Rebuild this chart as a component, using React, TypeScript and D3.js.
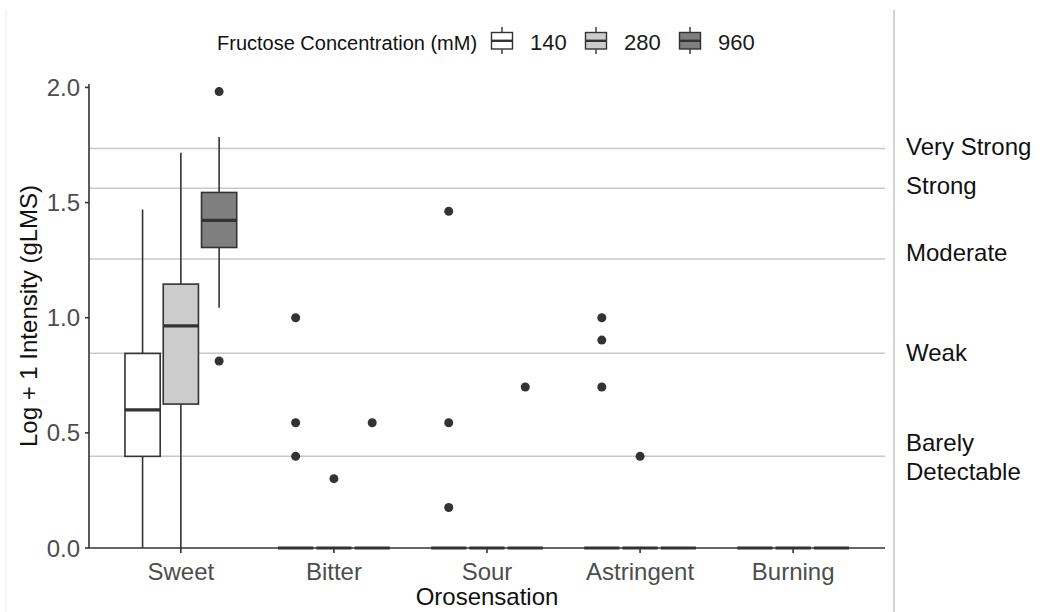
import React from "react";
import * as d3 from "d3";

// ---------- data ----------
const categories = ["Sweet", "Bitter", "Sour", "Astringent", "Burning"];
const concentrations = ["140", "280", "960"];
const concFills = ["#ffffff", "#cccccc", "#7f7f7f"];

// box statistics, indexed [category][concentration]
const whiskerLow = [
  [0, 0, 1.043],
  [0, 0, 0],
  [0, 0, 0],
  [0, 0, 0],
  [0, 0, 0],
];
const q1 = [
  [0.398, 0.625, 1.305],
  [0, 0, 0],
  [0, 0, 0],
  [0, 0, 0],
  [0, 0, 0],
];
const medians = [
  [0.6, 0.965, 1.423],
  [0, 0, 0],
  [0, 0, 0],
  [0, 0, 0],
  [0, 0, 0],
];
const q3 = [
  [0.845, 1.146, 1.544],
  [0, 0, 0],
  [0, 0, 0],
  [0, 0, 0],
  [0, 0, 0],
];
const whiskerHigh = [
  [1.47, 1.716, 1.785],
  [0, 0, 0],
  [0, 0, 0],
  [0, 0, 0],
  [0, 0, 0],
];

// outliers: [categoryIndex, concentrationIndex, value]
const outliers: [number, number, number][] = [
  [0, 2, 1.982],
  [0, 2, 0.812],
  [1, 0, 1.0],
  [1, 0, 0.544],
  [1, 0, 0.398],
  [1, 1, 0.301],
  [1, 2, 0.544],
  [2, 0, 1.462],
  [2, 0, 0.544],
  [2, 0, 0.176],
  [2, 2, 0.699],
  [3, 0, 1.0],
  [3, 0, 0.903],
  [3, 0, 0.699],
  [3, 1, 0.398],
];

// gLMS reference levels (log10(1 + gLMS))
const refLevels = [0.398, 0.846, 1.255, 1.562, 1.735];
const refLabels = [["Barely", "Detectable"], ["Weak"], ["Moderate"], ["Strong"], ["Very Strong"]];
const refLabelAnchors = [0.395, 0.85, 1.283, 1.574, 1.744];

const yTicks = [0, 0.5, 1.0, 1.5, 2.0];

// ---------- layout ----------
const W = 1040;
const H = 612;
const panelLeft = 89;
const panelRight = 885;
const panelTop = 84;
const panelBottom = 548;
const FONT = "'Liberation Sans', Arial, Helvetica, sans-serif";

export default function App() {
  const x = d3.scalePoint<string>().domain(categories).range([panelLeft, panelRight]).padding(0.6);
  const step = x.step();
  const dodge = d3
    .scaleBand<string>()
    .domain(concentrations)
    .range([-0.375 * step, 0.375 * step])
    .paddingInner(0)
    .paddingOuter(0);
  const boxW = 0.23 * step;
  const y = d3.scaleLinear().domain([0, 2.015]).range([panelBottom, panelTop]);

  const boxes: JSX.Element[] = [];
  categories.forEach((cat, ci) => {
    concentrations.forEach((conc, ki) => {
      const cx = (x(cat) as number) + (dodge(conc) as number) + dodge.bandwidth() / 2;
      const x0 = cx - boxW / 2;
      boxes.push(
        <g key={`${cat}-${conc}`}>
          <line x1={cx} x2={cx} y1={y(whiskerHigh[ci][ki])} y2={y(q3[ci][ki])} stroke="#333" strokeWidth={1.6} />
          <line x1={cx} x2={cx} y1={y(q1[ci][ki])} y2={y(whiskerLow[ci][ki])} stroke="#333" strokeWidth={1.6} />
          <rect
            x={x0}
            y={y(q3[ci][ki])}
            width={boxW}
            height={Math.max(0, y(q1[ci][ki]) - y(q3[ci][ki]))}
            fill={concFills[ki]}
            stroke="#333"
            strokeWidth={1.6}
          />
          <line x1={x0} x2={x0 + boxW} y1={y(medians[ci][ki])} y2={y(medians[ci][ki])} stroke="#333" strokeWidth={3.2} />
        </g>
      );
    });
  });

  const keyStep = 94;
  const keyX0 = 490;

  return (
    <svg
      width={W}
      height={H}
      style={{ position: "absolute", left: 0, top: 0, display: "block", background: "#fff" }}
      fontFamily={FONT}
    >
      <rect x={0} y={0} width={W} height={H} fill="#fff" />
      {/* faint frame lines */}
      <line x1={6} x2={6} y1={10} y2={H} stroke="#eeeeee" strokeWidth={1.2} />
      <line x1={894} x2={894} y1={10} y2={H} stroke="#c4c4c4" strokeWidth={1.5} />

      {/* reference lines */}
      {refLevels.map((v, i) => (
        <line key={i} x1={panelLeft} x2={panelRight} y1={y(v)} y2={y(v)} stroke="#c8c8c8" strokeWidth={1.5} />
      ))}

      {/* axes */}
      <line x1={panelLeft} x2={panelLeft} y1={panelTop} y2={panelBottom} stroke="#333" strokeWidth={1.6} />
      <line x1={panelLeft} x2={panelRight} y1={panelBottom} y2={panelBottom} stroke="#333" strokeWidth={1.6} />
      {yTicks.map((t) => (
        <g key={t}>
          <line x1={panelLeft - 4} x2={panelLeft} y1={y(t)} y2={y(t)} stroke="#333" strokeWidth={1.6} />
          <text x={panelLeft - 9} y={y(t) + 8.5} textAnchor="end" fontSize={24} fill="#4d4d4d">
            {t.toFixed(1)}
          </text>
        </g>
      ))}
      {categories.map((c) => (
        <g key={c}>
          <line x1={x(c)} x2={x(c)} y1={panelBottom} y2={panelBottom + 5} stroke="#333" strokeWidth={1.6} />
          <text x={x(c)} y={580} textAnchor="middle" fontSize={24} fill="#4d4d4d">
            {c}
          </text>
        </g>
      ))}

      {/* boxes */}
      {boxes}

      {/* outliers */}
      {outliers.map(([ci, ki, v], i) => {
        const cx = (x(categories[ci]) as number) + (dodge(concentrations[ki]) as number) + dodge.bandwidth() / 2;
        return <circle key={i} cx={cx} cy={y(v)} r={4.5} fill="#333" />;
      })}

      {/* axis titles */}
      <text x={(panelLeft + panelRight) / 2} y={605} textAnchor="middle" fontSize={24} fill="#111">
        Orosensation
      </text>
      <text
        transform={`translate(${37},${(panelTop + panelBottom) / 2}) rotate(-90)`}
        textAnchor="middle"
        fontSize={24}
        fill="#111"
      >
        Log + 1 Intensity (gLMS)
      </text>

      {/* right labels */}
      {refLabels.map((lines, i) => {
        const cy = y(refLabelAnchors[i]);
        const lh = 29;
        const start = cy - ((lines.length - 1) * lh) / 2;
        return (
          <text key={i} x={906} fontSize={24} fill="#111">
            {lines.map((l, j) => (
              <tspan key={j} x={906} y={start + j * lh + 8.5}>
                {l}
              </tspan>
            ))}
          </text>
        );
      })}

      {/* legend */}
      <text x={217} y={50} fontSize={20} fill="#111">
        Fructose Concentration (mM)
      </text>
      {concentrations.map((c, i) => {
        const kx = keyX0 + i * keyStep;
        const kc = kx + 12;
        return (
          <g key={c}>
            <line x1={kc} x2={kc} y1={27} y2={54} stroke="#333" strokeWidth={1.4} />
            <rect x={kx + 1.5} y={32.5} width={21} height={16.5} fill={concFills[i]} stroke="#333" strokeWidth={1.4} />
            <line x1={kx + 1.5} x2={kx + 22.5} y1={40.8} y2={40.8} stroke="#333" strokeWidth={2.4} />
            <text x={kx + 40} y={50} fontSize={22} fill="#1a1a1a">
              {c}
            </text>
          </g>
        );
      })}
    </svg>
  );
}
